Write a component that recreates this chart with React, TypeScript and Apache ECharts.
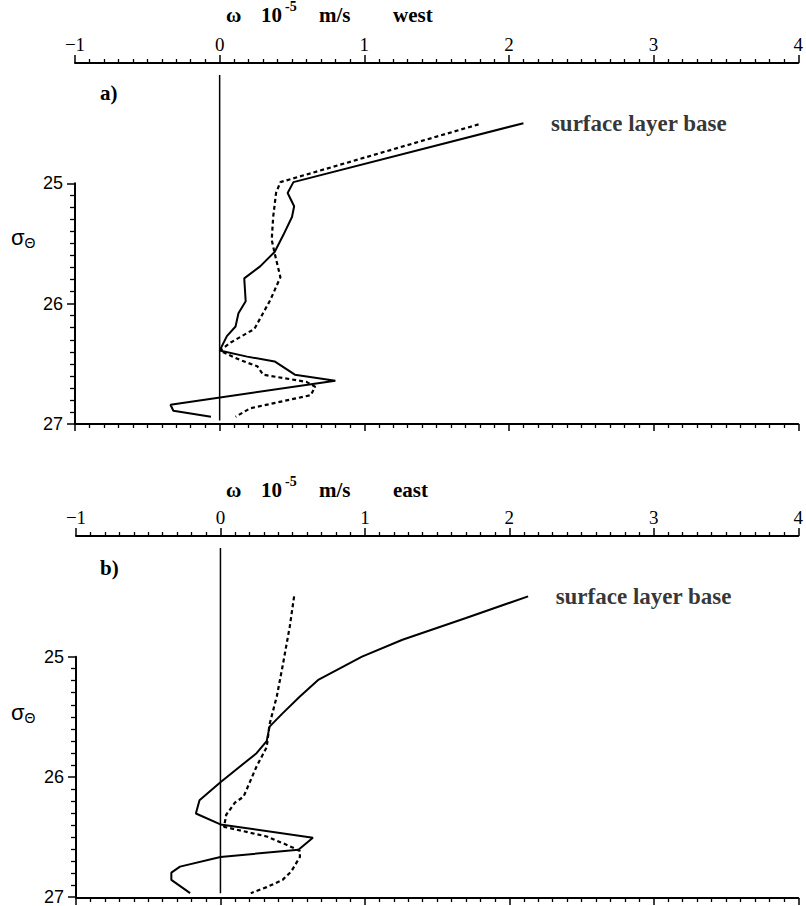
import React, { useEffect, useRef } from "react";
import * as echarts from "echarts";

// Vertical velocity ω (10^-5 m/s) against potential density σΘ, western and eastern profiles.
// Each point is [ω, σΘ], listed from the surface layer base downwards.
const solidWest: number[][] = [
  [2.1, 24.5], [0.51, 24.99], [0.47, 25.08], [0.515, 25.19], [0.5, 25.28], [0.44, 25.43],
  [0.38, 25.57], [0.28, 25.69], [0.17, 25.79], [0.18, 25.98], [0.13, 26.08], [0.11, 26.19],
  [0.05, 26.27], [0.0, 26.39], [0.19, 26.44], [0.38, 26.48], [0.52, 26.59], [0.8, 26.64],
  [-0.34, 26.84], [-0.32, 26.89], [-0.06, 26.94],
];
const dashedWest: number[][] = [
  [1.79, 24.51], [0.42, 24.99], [0.39, 25.08], [0.37, 25.28], [0.36, 25.47], [0.38, 25.58],
  [0.42, 25.78], [0.35, 25.97], [0.24, 26.21], [0.08, 26.32], [0.0, 26.39], [0.145, 26.47],
  [0.26, 26.52], [0.3, 26.59], [0.6, 26.65], [0.66, 26.69], [0.63, 26.76], [0.21, 26.87],
  [0.11, 26.94],
];
const solidEast: number[][] = [
  [2.13, 24.5], [1.7, 24.68], [1.26, 24.86], [0.98, 25.0], [0.68, 25.19], [0.55, 25.33],
  [0.43, 25.47], [0.34, 25.58], [0.32, 25.7], [0.25, 25.8], [0.0, 26.04], [-0.145, 26.19],
  [-0.17, 26.3], [0.0, 26.39], [0.64, 26.5], [0.54, 26.6], [0.0, 26.66], [-0.28, 26.74],
  [-0.34, 26.79], [-0.34, 26.85], [-0.21, 26.96],
];
const dashedEast: number[][] = [
  [0.51, 24.5], [0.48, 24.75], [0.43, 25.08], [0.39, 25.33], [0.34, 25.56], [0.32, 25.75],
  [0.25, 25.91], [0.16, 26.16], [0.1, 26.21], [0.04, 26.31], [0.025, 26.41], [0.32, 26.49],
  [0.46, 26.56], [0.55, 26.61], [0.55, 26.66], [0.49, 26.78], [0.43, 26.85], [0.32, 26.91],
  [0.21, 26.96],
];
const zeroWest: number[][] = [[0, 24.1], [0, 26.97]];
const zeroEast: number[][] = [[0, 24.1], [0, 26.96]];

const omegaRange = [-1, 4];
const sigmaRange = [24, 27];
const sigmaAxisRange = [25, 27];
const baseLabel = "surface layer base";
const panelNames = ["west", "east"];
const panelTags = ["a)", "b)"];

const INK = "#000";
const SERIF = "'Liberation Serif', 'DejaVu Serif', serif";
const SANS = "'Liberation Sans', 'DejaVu Sans', sans-serif";

function omegaAxis(gridIndex: number, withLabels: boolean, position: "top" | "bottom") {
  return {
    type: "value",
    gridIndex,
    position,
    min: omegaRange[0],
    max: omegaRange[1],
    interval: 1,
    axisLine: { show: true, onZero: false, lineStyle: { color: INK, width: 2 } },
    axisTick: { show: true, inside: false, length: position === "top" ? 8 : 7, lineStyle: { color: INK, width: 1.5 } },
    minorTick: { show: true, splitNumber: 10, length: 4, lineStyle: { color: INK, width: 1.3 } },
    splitLine: { show: false },
    minorSplitLine: { show: false },
    axisLabel: {
      show: withLabels,
      margin: 9,
      color: INK,
      fontFamily: SERIF,
      fontSize: 19,
      formatter: (v: number) => (v < 0 ? "\u2212" + Math.abs(v) : String(v)),
    },
  };
}

function hiddenX(gridIndex: number) {
  return { type: "value", gridIndex, show: false, min: omegaRange[0], max: omegaRange[1] };
}

function hiddenY(gridIndex: number) {
  return { type: "value", gridIndex, show: false, inverse: true, min: sigmaRange[0], max: sigmaRange[1] };
}

function sigmaAxis(gridIndex: number) {
  return {
    type: "value",
    gridIndex,
    inverse: true,
    min: sigmaAxisRange[0],
    max: sigmaAxisRange[1],
    interval: 1,
    axisLine: { show: true, onZero: false, lineStyle: { color: INK, width: 2 } },
    axisTick: { show: true, inside: false, length: 8, lineStyle: { color: INK, width: 1.5 } },
    minorTick: { show: true, splitNumber: 10, length: 5, lineStyle: { color: INK, width: 1.3 } },
    splitLine: { show: false },
    axisLabel: { margin: 12, color: INK, fontFamily: SANS, fontSize: 18 },
  };
}

function profileSeries(xi: number, yi: number, solid: number[][], dashed: number[][], zero: number[][]) {
  return [
    {
      type: "line",
      xAxisIndex: xi,
      yAxisIndex: yi,
      data: zero,
      symbol: "none",
      lineStyle: { color: INK, width: 1.5 },
      z: 1,
    },
    {
      type: "line",
      xAxisIndex: xi,
      yAxisIndex: yi,
      data: dashed,
      symbol: "none",
      lineStyle: { color: INK, width: 2.2, type: [4, 3] },
      z: 2,
    },
    {
      type: "line",
      xAxisIndex: xi,
      yAxisIndex: yi,
      data: solid,
      symbol: "none",
      lineStyle: { color: INK, width: 2 },
      z: 3,
    },
    {
      type: "scatter",
      xAxisIndex: xi,
      yAxisIndex: yi,
      data: [solid[0]],
      symbolSize: 1,
      itemStyle: { color: "rgba(0,0,0,0)" },
      label: {
        show: true,
        position: "right",
        distance: 27,
        formatter: baseLabel,
        color: INK,
        fontFamily: SERIF,
        fontWeight: "bold",
        fontSize: 23,
      },
      z: 4,
    },
  ];
}

function panelHeading(top: number, name: string, tag: string) {
  const font = { fill: INK, fontFamily: SERIF, fontWeight: "bold" };
  return [
    { type: "text", left: 226, top: top - 14, style: { ...font, text: "\u03c9", fontSize: 21 } },
    { type: "text", left: 261, top: top - 14, style: { ...font, text: "10", fontSize: 21 } },
    { type: "text", left: 285, top: top - 19, style: { ...font, text: "-5", fontSize: 14 } },
    { type: "text", left: 319, top: top - 14, style: { ...font, text: "m/s", fontSize: 21 } },
    { type: "text", left: 393, top: top - 14, style: { ...font, text: name, fontSize: 21 } },
    { type: "text", left: 100, top: top + 64, style: { ...font, text: tag, fontSize: 21 } },
    {
      type: "text",
      left: 11,
      top: top + 208,
      style: {
        text: "{s|\u03c3}{t|\u0398}",
        rich: {
          s: { fontFamily: SANS, fontSize: 22, fill: INK, verticalAlign: "top" },
          t: { fontFamily: SANS, fontSize: 14, fill: INK, padding: [10, 0, 0, 0] },
        },
      },
    },
  ];
}

export default function App() {
  const ref = useRef<HTMLDivElement>(null);

  useEffect(() => {
    if (!ref.current) return;
    const chart = echarts.init(ref.current, undefined, { renderer: "svg" });
    chart.setOption({
      animation: false,
      backgroundColor: "#fff",
      grid: [
        { left: 75, top: 63, width: 735, height: 361 },
        { left: 75, top: 183.3, width: 735, height: 240.7 },
        { left: 76, top: 536, width: 735, height: 362 },
        { left: 76, top: 656.7, width: 735, height: 241.3 },
      ],
      xAxis: [
        omegaAxis(0, true, "top"),
        omegaAxis(0, false, "bottom"),
        hiddenX(1),
        omegaAxis(2, true, "top"),
        omegaAxis(2, false, "bottom"),
        hiddenX(3),
      ],
      yAxis: [hiddenY(0), sigmaAxis(1), hiddenY(2), sigmaAxis(3)],
      series: [
        ...profileSeries(0, 0, solidWest, dashedWest, zeroWest),
        ...profileSeries(3, 2, solidEast, dashedEast, zeroEast),
      ],
      graphic: [
        ...panelHeading(18, panelNames[0], panelTags[0]),
        ...panelHeading(493, panelNames[1], panelTags[1]),
      ],
    });
    return () => chart.dispose();
  }, []);

  return (
    <div
      ref={ref}
      style={{ position: "absolute", left: 0, top: 0, width: 806, height: 906, background: "#fff" }}
    />
  );
}
